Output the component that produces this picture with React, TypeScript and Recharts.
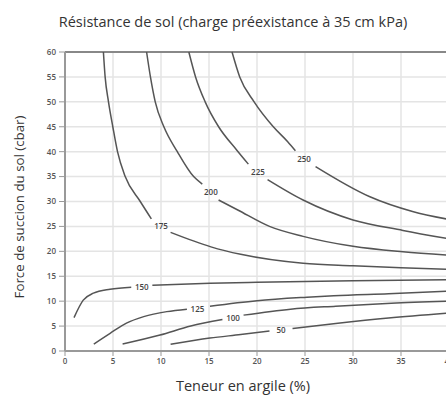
import React from 'react';
import { LineChart, Line, XAxis, YAxis, CartesianGrid, ReferenceLine } from 'recharts';

type Pt = { x: number; y: number | null };

const X_TICKS = [0, 5, 10, 15, 20, 25, 30, 35, 40];
const Y_TICKS = [0, 5, 10, 15, 20, 25, 30, 35, 40, 45, 50, 55, 60];

// each curve: points before the label, a null gap, points after
const curve50: Pt[] = [
  { x: 11.0, y: 1.35 }, { x: 15.1, y: 2.6 }, { x: 18.3, y: 3.3 }, { x: 21.3, y: 4.0 },
  { x: 22.5, y: null },
  { x: 23.7, y: 4.5 }, { x: 28.2, y: 5.5 }, { x: 33.7, y: 6.6 }, { x: 40, y: 7.6 },
];
const curve100: Pt[] = [
  { x: 6.0, y: 1.4 }, { x: 9.9, y: 3.2 }, { x: 13.1, y: 5.0 }, { x: 16.4, y: 6.3 },
  { x: 17.5, y: null },
  { x: 18.6, y: 7.2 }, { x: 23.5, y: 8.4 }, { x: 28.2, y: 9.0 }, { x: 34, y: 9.6 }, { x: 40, y: 10.0 },
];
const curve125: Pt[] = [
  { x: 3.0, y: 1.4 }, { x: 4.7, y: 3.55 }, { x: 6.4, y: 5.6 }, { x: 8.2, y: 6.9 }, { x: 10.6, y: 7.9 }, { x: 12.7, y: 8.4 },
  { x: 13.8, y: null },
  { x: 15.1, y: 9.0 }, { x: 20.0, y: 10.1 }, { x: 25.2, y: 10.8 }, { x: 28.0, y: 11.1 }, { x: 33.7, y: 11.5 }, { x: 40, y: 12.0 },
];
const curve150: Pt[] = [
  { x: 0.94, y: 6.7 }, { x: 1.9, y: 10.2 }, { x: 2.96, y: 11.6 }, { x: 4.7, y: 12.4 }, { x: 6.9, y: 12.8 },
  { x: 8.0, y: null },
  { x: 9.1, y: 13.2 }, { x: 15.1, y: 13.6 }, { x: 20, y: 13.8 }, { x: 30, y: 14.1 }, { x: 40, y: 14.3 },
];
const curve175: Pt[] = [
  { x: 4.0, y: 60 }, { x: 4.18, y: 55 }, { x: 4.53, y: 50 }, { x: 4.98, y: 45 }, { x: 5.47, y: 40 },
  { x: 6.27, y: 35 }, { x: 7.84, y: 30 }, { x: 9.0, y: 26.5 },
  { x: 10.0, y: null },
  { x: 11.0, y: 23.8 }, { x: 15.2, y: 20.9 }, { x: 18.3, y: 19.4 }, { x: 24.8, y: 17.6 },
  { x: 30, y: 17.1 }, { x: 35, y: 16.7 }, { x: 40, y: 16.4 },
];
const curve200: Pt[] = [
  { x: 8.5, y: 60 }, { x: 8.9, y: 55 }, { x: 9.4, y: 50 }, { x: 10.3, y: 45 }, { x: 11.7, y: 40 },
  { x: 13.4, y: 35 }, { x: 14.3, y: 33.5 },
  { x: 15.2, y: null },
  { x: 16.0, y: 30.3 }, { x: 18.0, y: 28.3 }, { x: 21.3, y: 25.0 }, { x: 24.8, y: 23.0 },
  { x: 30.0, y: 21.0 }, { x: 35.2, y: 19.9 }, { x: 40, y: 19.2 },
];
const curve225: Pt[] = [
  { x: 12.9, y: 60 }, { x: 13.6, y: 55 }, { x: 14.6, y: 50 }, { x: 16.0, y: 45 }, { x: 17.9, y: 40.3 }, { x: 19.1, y: 37.5 },
  { x: 20.1, y: null },
  { x: 21.1, y: 34.4 }, { x: 24.8, y: 30.3 }, { x: 30.0, y: 26.3 }, { x: 35.2, y: 24.2 }, { x: 40, y: 22.5 },
];
const curve250: Pt[] = [
  { x: 17.4, y: 60 }, { x: 18.2, y: 55 }, { x: 19.7, y: 50 }, { x: 21.7, y: 45 }, { x: 23.2, y: 42 }, { x: 24.0, y: 40.2 },
  { x: 24.9, y: null },
  { x: 26.1, y: 37.0 }, { x: 31.7, y: 31.0 }, { x: 36.2, y: 28.0 }, { x: 40, y: 26.4 },
];

const CURVES = [curve50, curve100, curve125, curve150, curve175, curve200, curve225, curve250];

const LABELS = [
  { x: 22.5, y: 4.2, text: '50' },
  { x: 17.5, y: 6.6, text: '100' },
  { x: 13.8, y: 8.4, text: '125' },
  { x: 8.0, y: 12.8, text: '150' },
  { x: 10.0, y: 25.0, text: '175' },
  { x: 15.2, y: 31.9, text: '200' },
  { x: 20.1, y: 36.0, text: '225' },
  { x: 24.9, y: 38.6, text: '250' },
];

const tickStyle = { fontSize: 8, fill: '#555', fontWeight: 600, fontFamily: 'Open Sans' };

const renderLabel = (props: any) => {
  const { cx, cy, payload, index } = props;
  return (
    <text key={`lbl-${index}`} x={cx} y={cy} dy={3} textAnchor="middle" fontSize={8} fontWeight={600} fill="#444" fontFamily="Open Sans">
      {payload.text}
    </text>
  );
};

export default function App() {
  return (
    <div style={{ position: 'fixed', left: 0, top: 0, width: 446, height: 398, overflow: 'hidden', background: '#fff', fontFamily: 'Open Sans', color: '#333' }}>
      <div style={{ position: 'absolute', left: 0, top: 12, width: 466, textAlign: 'center', fontSize: 14.5, lineHeight: '20px' }}>
        Résistance de sol (charge préexistance à 35 cm kPa)
      </div>
      <div style={{ position: 'absolute', left: 0, top: 376, width: 486, textAlign: 'center', fontSize: 14.5, lineHeight: '20px' }}>
        Teneur en argile (%)
      </div>
      <div style={{ position: 'absolute', left: 19 - 130, top: 207 - 10, width: 260, textAlign: 'center', fontSize: 13.3, lineHeight: '20px', transform: 'rotate(-90deg)' }}>
        Force de succion du sol (cbar)
      </div>
      <div style={{ position: 'absolute', left: 0, top: 0 }}>
        <LineChart width={460} height={398} margin={{ top: 52, right: 11, bottom: 27, left: 0 }}>
          <CartesianGrid stroke="#e4e4e4" strokeWidth={1.5} />
          <XAxis
            type="number"
            dataKey="x"
            domain={[0, 40]}
            ticks={X_TICKS}
            allowDataOverflow
            height={20}
            tick={tickStyle}
            tickSize={5}
            tickMargin={2}
            axisLine={{ stroke: '#999', strokeWidth: 2 }}
            tickLine={{ stroke: '#999' }}
          />
          <YAxis
            type="number"
            domain={[0, 60]}
            ticks={Y_TICKS}
            width={65}
            tick={tickStyle}
            tickSize={6}
            tickMargin={3}
            axisLine={{ stroke: '#999', strokeWidth: 2 }}
            tickLine={{ stroke: '#999' }}
          />
          <ReferenceLine y={60} stroke="#888" strokeWidth={2} />
          {CURVES.map((c, i) => (
            <Line
              key={i}
              data={c}
              dataKey="y"
              type="monotone"
              stroke="#555"
              strokeWidth={1.5}
              dot={false}
              activeDot={false}
              isAnimationActive={false}
            />
          ))}
          <Line data={LABELS} dataKey="y" stroke="none" dot={renderLabel} activeDot={false} isAnimationActive={false} />
        </LineChart>
      </div>
    </div>
  );
}
